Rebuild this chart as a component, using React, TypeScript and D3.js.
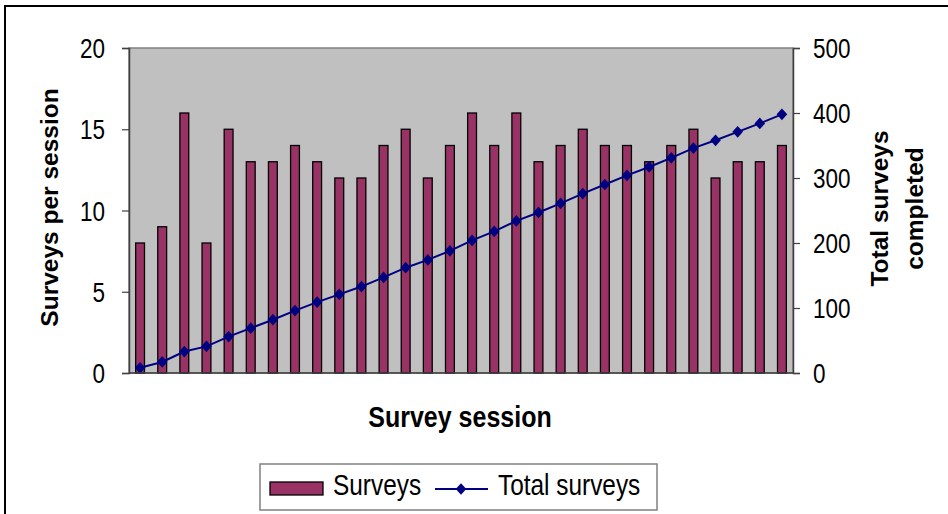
import React, { useEffect, useRef } from 'react';
import * as d3 from 'd3';

// per-session survey counts
const sessions = d3.range(1, 31).map(String);
const surveys = [8, 9, 16, 8, 15, 13, 13, 14, 13, 12, 12, 14, 15, 12, 14, 16, 14, 16, 13, 14, 15, 14, 14, 13, 14, 15, 12, 13, 13, 14];
const totalSurveys = [8, 17, 33, 41, 56, 69, 82, 96, 109, 121, 133, 147, 162, 174, 188, 204, 218, 234, 247, 261, 276, 290, 304, 317, 331, 346, 358, 371, 384, 398];
const leftTicks = [0, 5, 10, 15, 20];
const rightTicks = [0, 100, 200, 300, 400, 500];

const FONT = 'Arial, "Liberation Sans", sans-serif';
const STRETCH = 1.2; // text in the source is drawn a bit taller than wide

export default function App() {
  const svgRef = useRef<SVGSVGElement>(null);

  useEffect(() => {
    if (!svgRef.current) return;
    const svg = d3.select(svgRef.current);
    svg.selectAll('*').remove();

    const plot = { left: 129, right: 793, top: 48, bottom: 373 };

    // outer chart frame
    svg.append('rect')
      .attr('x', 5).attr('y', 6)
      .attr('width', 960).attr('height', 520)
      .attr('fill', '#fff').attr('stroke', '#000').attr('stroke-width', 2);

    const x = d3.scaleBand<string>()
      .domain(sessions)
      .range([plot.left, plot.right])
      .paddingInner(0.6).paddingOuter(0.3);
    const yL = d3.scaleLinear().domain([0, 20]).range([plot.bottom, plot.top]);
    const yR = d3.scaleLinear().domain([0, 500]).range([plot.bottom, plot.top]);

    // plot background
    svg.append('rect')
      .attr('x', plot.left).attr('y', plot.top)
      .attr('width', plot.right - plot.left).attr('height', plot.bottom - plot.top)
      .attr('fill', '#c0c0c0').attr('stroke', '#808080').attr('stroke-width', 1.5);

    // bars
    svg.append('g').selectAll('rect')
      .data(surveys)
      .join('rect')
      .attr('x', (_, i) => x(sessions[i])!)
      .attr('y', d => yL(d))
      .attr('width', x.bandwidth())
      .attr('height', d => yL(0) - yL(d))
      .attr('fill', '#993366')
      .attr('stroke', '#000')
      .attr('stroke-width', 1.3);

    // cumulative line
    const cx = (i: number) => x(sessions[i])! + x.bandwidth() / 2;
    const line = d3.line<number>()
      .x((_, i) => cx(i))
      .y(d => yR(d));
    svg.append('path')
      .datum(totalSurveys)
      .attr('d', line)
      .attr('fill', 'none')
      .attr('stroke', '#000080')
      .attr('stroke-width', 2);

    const diamond = d3.symbol().type(d3.symbolDiamond2).size(72);
    svg.append('g').selectAll('path')
      .data(totalSurveys)
      .join('path')
      .attr('transform', (d, i) => `translate(${cx(i)},${yR(d)}) scale(1,1.1)`)
      .attr('d', diamond)
      .attr('fill', '#000080');

    // axes
    const leftAxis = svg.append('g')
      .attr('transform', `translate(${plot.left},0)`)
      .call(d3.axisLeft(yL).tickValues(leftTicks).tickSize(7).tickPadding(17));
    const rightAxis = svg.append('g')
      .attr('transform', `translate(${plot.right},0)`)
      .call(d3.axisRight(yR).tickValues(rightTicks).tickSize(7).tickPadding(13));
    [leftAxis, rightAxis].forEach(ax => {
      ax.select('.domain').attr('stroke', '#404040').attr('stroke-width', 1.5);
      ax.selectAll('.tick line').attr('stroke', '#404040').attr('stroke-width', 1.2);
      ax.selectAll('.tick text')
        .attr('font-family', FONT)
        .attr('font-size', 22.5)
        .attr('dy', '0.36em')
        .attr('transform', `scale(1,${STRETCH})`)
        .attr('fill', '#000');
    });

    svg.append('line')
      .attr('x1', plot.left).attr('x2', plot.right)
      .attr('y1', plot.bottom).attr('y2', plot.bottom)
      .attr('stroke', '#404040').attr('stroke-width', 1.5);

    // axis titles
    svg.append('text')
      .attr('transform', `translate(57.5,${(plot.top + plot.bottom) / 2 - 3}) rotate(-90)`)
      .attr('text-anchor', 'middle')
      .attr('font-family', FONT).attr('font-size', 24.5).attr('font-weight', 'bold')
      .text('Surveys per session');

    const rt = svg.append('text')
      .attr('transform', `translate(887.5,${(plot.top + plot.bottom) / 2 - 2}) rotate(-90)`)
      .attr('text-anchor', 'middle')
      .attr('font-family', FONT).attr('font-size', 24.5).attr('font-weight', 'bold');
    rt.append('tspan').attr('x', 0).attr('dy', 0).text('Total surveys');
    rt.append('tspan').attr('x', 0).attr('dy', 35).text('completed');

    svg.append('text')
      .attr('transform', `translate(460,427) scale(1,${STRETCH})`)
      .attr('text-anchor', 'middle')
      .attr('font-family', FONT).attr('font-size', 25).attr('font-weight', 'bold')
      .text('Survey session');

    // legend
    const lg = svg.append('g');
    lg.append('rect')
      .attr('x', 260).attr('y', 464).attr('width', 397).attr('height', 46)
      .attr('fill', '#fff').attr('stroke', '#808080').attr('stroke-width', 1.5);
    lg.append('rect')
      .attr('x', 270).attr('y', 482).attr('width', 53).attr('height', 13)
      .attr('fill', '#993366').attr('stroke', '#000').attr('stroke-width', 1.3);
    lg.append('text')
      .attr('transform', `translate(333,495) scale(1,${STRETCH})`)
      .attr('font-family', FONT).attr('font-size', 24.4)
      .text('Surveys');
    lg.append('line')
      .attr('x1', 435).attr('x2', 488).attr('y1', 489).attr('y2', 489)
      .attr('stroke', '#000080').attr('stroke-width', 2);
    lg.append('path')
      .attr('transform', 'translate(461,489) scale(1,1.1)')
      .attr('d', diamond)
      .attr('fill', '#000080');
    lg.append('text')
      .attr('transform', `translate(498,495) scale(1,${STRETCH})`)
      .attr('font-family', FONT).attr('font-size', 24.4)
      .text('Total surveys');
  }, []);

  return (
    <svg
      ref={svgRef}
      width={948}
      height={514}
      style={{ position: 'absolute', left: 0, top: 0, background: '#fff' }}
    />
  );
}
